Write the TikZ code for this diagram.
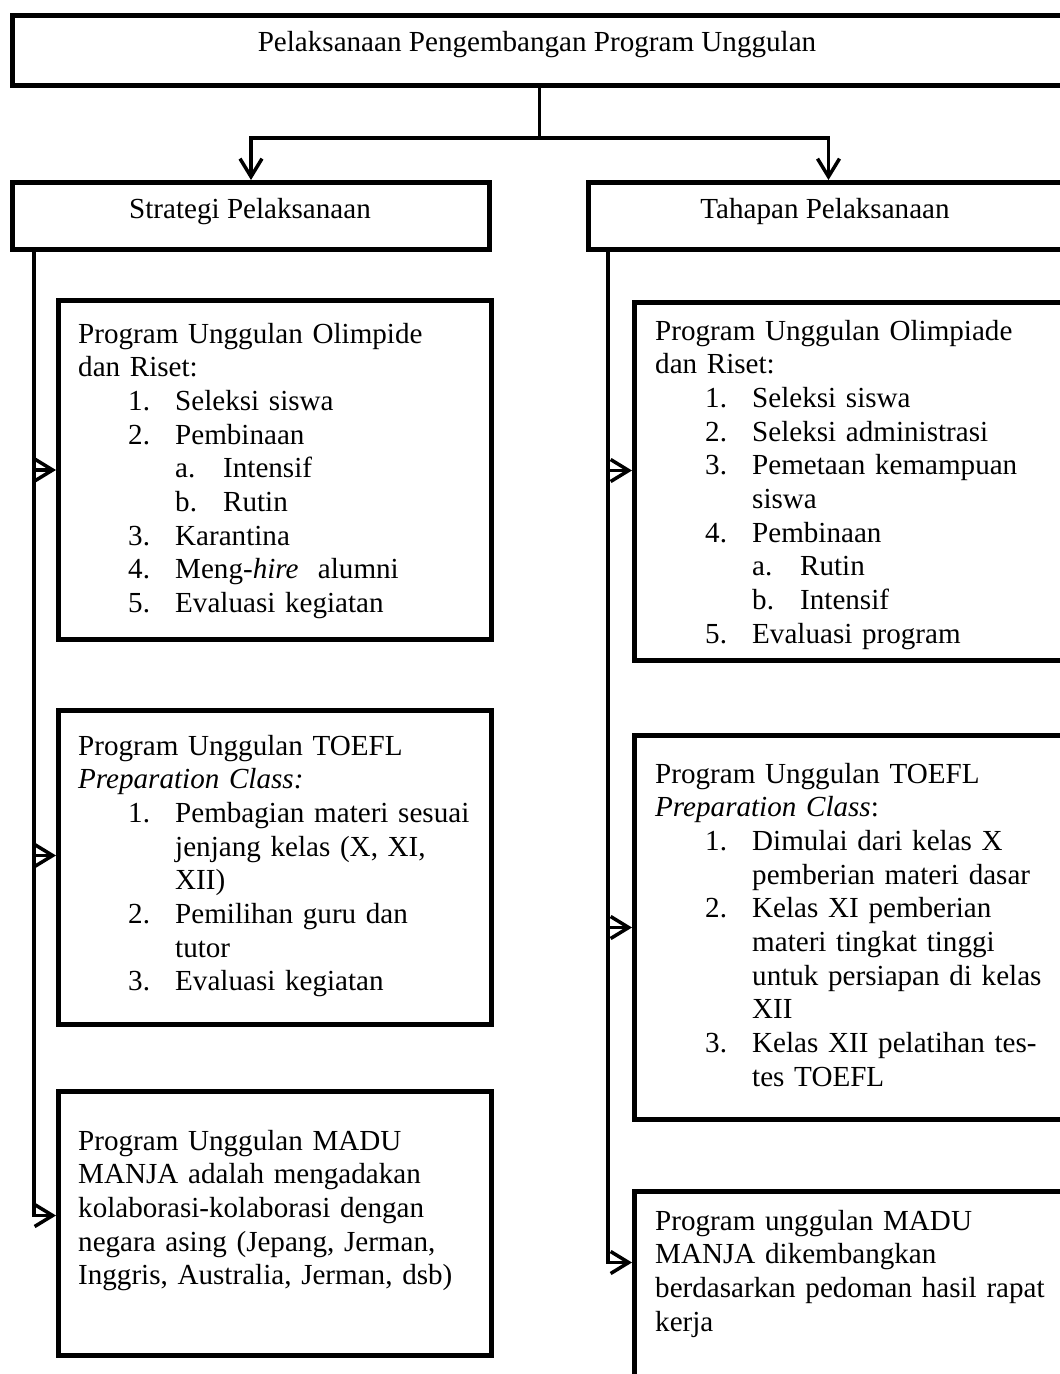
\documentclass[tikz,border=0pt]{standalone}
\usepackage{fontspec}
\setmainfont{Liberation Serif}
\usetikzlibrary{arrows.meta}
\newcommand\numi[2]{\hspace*{50pt}\makebox[47pt][l]{#1}#2}
\newcommand\contl[1]{\hspace*{97pt}#1}
\newcommand\subi[2]{\hspace*{97pt}\makebox[48pt][l]{#1}#2}
\begin{document}
\begin{tikzpicture}[x=1pt,y=-1pt,
  box/.style={draw, line width=5pt, inner sep=0pt, anchor=north west},
  txt/.style={font=\fontsize{29.1}{33.7}\selectfont, inner sep=0pt, anchor=base west, align=left, text width=420pt},
  ttl/.style={font=\fontsize{29.1}{33.7}\selectfont, inner sep=0pt, anchor=base},
  conn/.style={line width=3.5pt},
  arr/.style={line width=3.5pt, -{Straight Barb[length=18pt,width=22pt]}}]
\useasboundingbox (0,0) rectangle (1060,1374);
\clip (0,0) rectangle (1060,1374);

% top and level-2 boxes
\node[box, minimum width=1054pt, minimum height=70pt] (top) at (10,13) {};
\node[ttl] (ttop) at (537,51) {Pelaksanaan Pengembangan Program Unggulan};
\node[box, minimum width=477pt, minimum height=67pt] (strat) at (10,180) {};
\node[ttl] (tstrat) at (250,218) {Strategi Pelaksanaan};
\node[box, minimum width=480pt, minimum height=67pt] (tahap) at (586,180) {};
\node[ttl] (ttahap) at (825,218) {Tahapan Pelaksanaan};

% left boxes
\node[box, minimum width=433pt, minimum height=339pt] (lb1) at (56,298) {};
\node[box, minimum width=433pt, minimum height=314pt] (lb2) at (56,708) {};
\node[box, minimum width=433pt, minimum height=264pt] (lb3) at (56,1089) {};
% right boxes
\node[box, minimum width=440pt, minimum height=358pt] (rb1) at (632,300) {};
\node[box, minimum width=440pt, minimum height=384pt] (rb2) at (632,733) {};
\node[box, minimum width=440pt, minimum height=211pt] (rb3) at (632,1189) {};

% texts
\node[txt] (tl1) at (78,343) {Program Unggulan Olimpide\\
dan Riset:\\
\numi{1.}{Seleksi siswa}\\
\numi{2.}{Pembinaan}\\
\subi{a.}{Intensif}\\
\subi{b.}{Rutin}\\
\numi{3.}{Karantina}\\
\numi{4.}{Meng-\textit{hire}\ \ alumni}\\
\numi{5.}{Evaluasi kegiatan}};

\node[txt] (tl2) at (78,755) {Program Unggulan TOEFL\\
\textit{Preparation Class:}\\
\numi{1.}{Pembagian materi sesuai}\\
\contl{jenjang kelas (X, XI,}\\
\contl{XII)}\\
\numi{2.}{Pemilihan guru dan}\\
\contl{tutor}\\
\numi{3.}{Evaluasi kegiatan}};

\node[txt] (tl3) at (78,1150) {Program Unggulan MADU\\
MANJA adalah mengadakan\\
kolaborasi-kolaborasi dengan\\
negara asing (Jepang, Jerman,\\
Inggris, Australia, Jerman, dsb)};

\node[txt] (tr1) at (655,340) {Program Unggulan Olimpiade\\
dan Riset:\\
\numi{1.}{Seleksi siswa}\\
\numi{2.}{Seleksi administrasi}\\
\numi{3.}{Pemetaan kemampuan}\\
\contl{siswa}\\
\numi{4.}{Pembinaan}\\
\subi{a.}{Rutin}\\
\subi{b.}{Intensif}\\
\numi{5.}{Evaluasi program}};

\node[txt] (tr2) at (655,783) {Program Unggulan TOEFL\\
\textit{Preparation Class}:\\
\numi{1.}{Dimulai dari kelas X}\\
\contl{pemberian materi dasar}\\
\numi{2.}{Kelas XI pemberian}\\
\contl{materi tingkat tinggi}\\
\contl{untuk persiapan di kelas}\\
\contl{XII}\\
\numi{3.}{Kelas XII pelatihan tes-}\\
\contl{tes TOEFL}};

\node[txt] (tr3) at (655,1230) {Program unggulan MADU\\
MANJA dikembangkan\\
berdasarkan pedoman hasil rapat\\
kerja};

% connectors from top
\coordinate (jn) at ([yshift=-50pt]top.south);
\draw[conn] (top.south) -- (jn);
\draw[arr] (jn) -| (strat.north);
\draw[arr] (jn) -| (tahap.north);

% left column connectors
\coordinate (ls) at ([xshift=24pt]strat.south west);
\coordinate (la1) at (lb1.west);
\coordinate (la2) at ([yshift=12pt]lb2.west);
\coordinate (la3) at ([yshift=8pt]lb3.west);
\draw[arr] (ls) |- (la3);
\draw[arr] (la1 -| ls) -- (la1);
\draw[arr] (la2 -| ls) -- (la2);

% right column connectors
\coordinate (rs) at ([xshift=22pt]tahap.south west);
\coordinate (ra1) at ([yshift=11pt]rb1.west);
\coordinate (ra2) at (rb2.west);
\coordinate (ra3) at ([yshift=34.5pt]rb3.west);
\draw[arr] (rs) |- (ra3);
\draw[arr] (ra1 -| rs) -- (ra1);
\draw[arr] (ra2 -| rs) -- (ra2);
\end{tikzpicture}
\end{document}
